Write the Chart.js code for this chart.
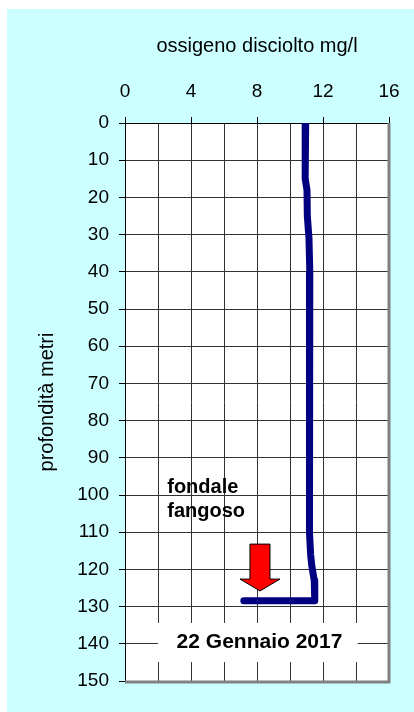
<!DOCTYPE html>
<html>
<head>
<meta charset="utf-8">
<script src="https://cdn.jsdelivr.net/npm/chart.js@4"></script>
<style>
html, body { margin: 0; padding: 0; background: #fff; }
canvas { display: block; }
</style>
</head>
<body>
<canvas id="grafico_ossigeno" width="414" height="712"></canvas>
<script>
/*------------------------------*/
/*   PROFILO OSSIGENO DISCIOLTO  */
/*------------------------------*/
var profondita = [0, 10, 15, 18, 25, 31, 40, 60, 85, 110, 116, 119, 123, 127, 128.4, 128.4]
var ossigeno = [10.95, 10.93, 10.91, 11.03, 11.05, 11.15, 11.2, 11.18, 11.18, 11.18, 11.25, 11.32, 11.47, 11.5, 11.5, 7.2]
var etichetteX = [0, 4, 8, 12, 16]
var titoloX = 'ossigeno disciolto mg/l'
var titoloY = 'profondità metri'
var notaFondale = ['fondale', 'fangoso']
var notaData = '22 Gennaio 2017'

var punti = profondita.map(function (p, i) { return { x: ossigeno[i], y: p } })

var FONT = 'Liberation Sans, Arial, sans-serif'

var sfondo = {
  id: 'sfondo',
  beforeDraw: function (chart) {
    var c = chart.ctx, a = chart.chartArea
    c.save()
    c.fillStyle = '#ffffff'
    c.fillRect(0, 0, chart.width, chart.height)
    c.fillStyle = '#ccffff'
    c.fillRect(7, 9, chart.width - 7, chart.height - 9)
    c.fillStyle = '#ffffff'
    c.fillRect(a.left, a.top, a.right - a.left, a.bottom - a.top)
    c.restore()
  },
  afterDraw: function (chart) {
    var c = chart.ctx, a = chart.chartArea
    var sx = chart.scales.x, sy = chart.scales.y
    c.save()
    // bordo grigio destro e inferiore
    c.strokeStyle = '#808080'
    c.lineWidth = 3
    c.beginPath()
    c.moveTo(a.right, a.top)
    c.lineTo(a.right, a.bottom + 1)
    c.lineTo(a.left, a.bottom + 1)
    c.stroke()

    // freccia rossa
    var cx = sx.getPixelForValue(8.18)
    var yTop = sy.getPixelForValue(113.2)
    var yBase = sy.getPixelForValue(122.6)
    var yTip = sy.getPixelForValue(125.8)
    c.beginPath()
    c.moveTo(cx - 10, yTop)
    c.lineTo(cx + 10, yTop)
    c.lineTo(cx + 10, yBase)
    c.lineTo(cx + 20, yBase)
    c.lineTo(cx, yTip)
    c.lineTo(cx - 20, yBase)
    c.lineTo(cx - 10, yBase)
    c.closePath()
    c.fillStyle = '#ff0000'
    c.fill()
    c.strokeStyle = '#000'
    c.lineWidth = 1
    c.stroke()

    // testo fondale
    c.fillStyle = '#000'
    c.font = 'bold 20px ' + FONT
    c.textAlign = 'left'
    c.textBaseline = 'alphabetic'
    c.fillText(notaFondale[0], sx.getPixelForValue(2.56), sy.getPixelForValue(99.5))
    c.fillText(notaFondale[1], sx.getPixelForValue(2.56), sy.getPixelForValue(106))

    // riquadro data
    var x0 = sx.getPixelForValue(2.0), x1 = sx.getPixelForValue(14.1)
    var y0 = sy.getPixelForValue(134.4), y1 = sy.getPixelForValue(144.9)
    c.fillStyle = '#fff'
    c.fillRect(x0, y0, x1 - x0, y1 - y0)
    c.fillStyle = '#000'
    c.textAlign = 'center'
    c.font = 'bold 21px ' + FONT
    c.fillText(notaData, sx.getPixelForValue(8.15), sy.getPixelForValue(139.0) + 7.5)
    c.restore()
  }
}

var ctx_ossigeno = document.getElementById('grafico_ossigeno').getContext('2d')

var config_ossigeno = {
  type: 'scatter',
  data: {
    datasets: [
      {
        label: titoloX,
        data: punti,
        showLine: true,
        fill: false,
        borderColor: '#000080',
        backgroundColor: '#000080',
        borderWidth: 7,
        borderCapStyle: 'round',
        borderJoinStyle: 'round',
        pointRadius: 0,
        tension: 0
      }
    ]
  },
  options: {
    responsive: false,
    animation: false,
    layout: { padding: { left: 0, right: 25, top: 0, bottom: 31 } },
    plugins: {
      legend: { display: false },
      tooltip: { enabled: false }
    },
    scales: {
      x: {
        type: 'linear',
        position: 'top',
        min: 0,
        max: 16,
        ticks: {
          stepSize: 2,
          autoSkip: false,
          maxRotation: 0,
          padding: 14,
          color: '#000',
          font: { family: FONT, size: 19 },
          callback: function (v) { return etichetteX.indexOf(v) >= 0 ? String(v) : '' }
        },
        grid: {
          color: '#333',
          lineWidth: 1,
          tickLength: 6,
          tickColor: function (ctx) {
            return ctx.tick && etichetteX.indexOf(ctx.tick.value) >= 0 ? '#000' : 'rgba(0,0,0,0)'
          }
        },
        border: { color: '#000', width: 1 },
        title: {
          display: true,
          text: titoloX,
          color: '#000',
          font: { family: FONT, size: 20 },
          padding: { top: 34, bottom: 0 }
        },
        afterFit: function (s) { s.height = 123 }
      },
      y: {
        type: 'linear',
        reverse: true,
        min: 0,
        max: 150,
        ticks: {
          stepSize: 10,
          padding: 10,
          color: '#000',
          font: { family: FONT, size: 19 }
        },
        grid: { color: '#333', lineWidth: 1, tickLength: 6, tickColor: '#000' },
        border: { color: '#000', width: 1 },
        title: {
          display: true,
          text: titoloY,
          color: '#000',
          font: { family: FONT, size: 20 },
          padding: { top: 35, bottom: 0 }
        },
        afterFit: function (s) { s.width = 125 }
      }
    }
  },
  plugins: [sfondo]
}

var grafico_ossigeno = new Chart(ctx_ossigeno, config_ossigeno)
/*------------------------------*/
</script>
</body>
</html>
